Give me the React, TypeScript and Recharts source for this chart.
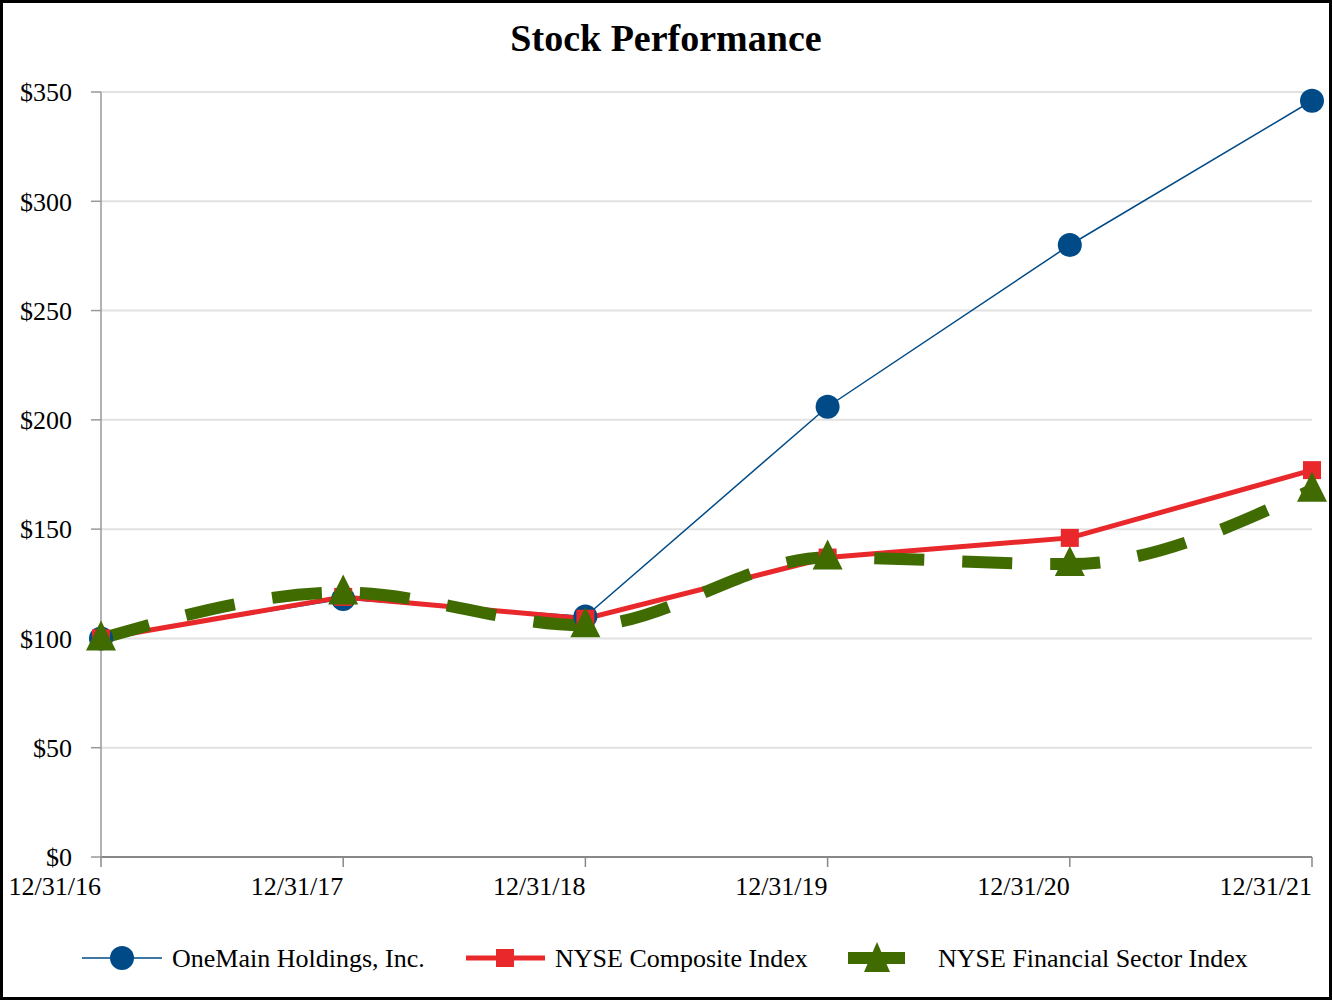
import React from 'react';
import { LineChart, Line, XAxis, YAxis, CartesianGrid, Legend } from 'recharts';

const dates = ['12/31/16', '12/31/17', '12/31/18', '12/31/19', '12/31/20', '12/31/21'];
const oneMain = [100, 118, 110, 206, 280, 346];
const nyseComposite = [100, 119, 109, 137, 146, 177];
const nyseFinancial = [100, 121, 106, 137, 134, 168];
const yTicks = [0, 50, 100, 150, 200, 250, 300, 350];

const BLUE = '#004B87';
const RED = '#E8282B';
const GREEN = '#3F6B00';
const FONT = '"Liberation Serif", "Times New Roman", serif';

const data = dates.map((d, i) => ({
  date: d,
  oneMain: oneMain[i],
  composite: nyseComposite[i],
  financial: nyseFinancial[i],
}));

const XTick = (props: any) => {
  const { x, y, payload } = props;
  return (
    <text x={x} y={y} dy={20} textAnchor="end" fontSize={26} fontFamily={FONT} fill="#000">
      {payload.value}
    </text>
  );
};

const Triangle = (props: any) => {
  const { cx, cy } = props;
  if (cx == null || cy == null) return null;
  return <path d={`M${cx},${cy - 18} L${cx + 15},${cy + 12} L${cx - 15},${cy + 12} Z`} fill={GREEN} />;
};

const Square = (props: any) => {
  const { cx, cy } = props;
  if (cx == null || cy == null) return null;
  return <rect x={cx - 9} y={cy - 9} width={18} height={18} fill={RED} />;
};

const LegendContent = () => (
  <svg width={1332} height={40} style={{ display: 'block' }}>
    <g>
      <line x1={82} y1={20} x2={162} y2={20} stroke={BLUE} strokeWidth={1.5} />
      <circle cx={122} cy={20} r={12} fill={BLUE} />
      <text x={172} y={29} fontSize={26} fontFamily={FONT} fill="#000">OneMain Holdings, Inc.</text>
    </g>
    <g>
      <line x1={466} y1={20} x2={545} y2={20} stroke={RED} strokeWidth={5} />
      <rect x={496} y={11} width={18} height={18} fill={RED} />
      <text x={555} y={29} fontSize={26} fontFamily={FONT} fill="#000">NYSE Composite Index</text>
    </g>
    <g>
      <line x1={848} y1={20} x2={905} y2={20} stroke={GREEN} strokeWidth={12} />
      <path d="M877,4 L890,34 L864,34 Z" fill={GREEN} />
      <text x={938} y={29} fontSize={26} fontFamily={FONT} fill="#000">NYSE Financial Sector Index</text>
    </g>
  </svg>
);

export default function App() {
  return (
    <div
      style={{
        position: 'absolute',
        left: 0,
        top: 0,
        width: 1332,
        height: 1000,
        background: '#fff',
        border: '3px solid #000',
        boxSizing: 'border-box',
        fontFamily: FONT,
      }}
    >
      <div
        style={{
          position: 'absolute',
          left: 0,
          top: 13,
          width: '100%',
          textAlign: 'center',
          fontSize: 38,
          fontWeight: 'bold',
          fontFamily: FONT,
          lineHeight: '44px',
        }}
      >
        Stock Performance
      </div>
      <div style={{ position: 'absolute', left: -3, top: -3 }}>
        <LineChart width={1332} height={1000} data={data} margin={{ top: 92, right: 20, left: 0, bottom: 83 }}>
          <CartesianGrid vertical={false} stroke="#e2e2e2" strokeWidth={2} />
          <XAxis
            dataKey="date"
            height={60}
            tick={<XTick />}
            tickSize={10}
            tickMargin={8}
            stroke="#888"
            axisLine={{ stroke: '#888', strokeWidth: 2 }}
            tickLine={{ stroke: '#888', strokeWidth: 1.5 }}
            interval={0}
          />
          <YAxis
            width={101}
            domain={[0, 350]}
            ticks={yTicks}
            tickFormatter={(v: number) => `$${v}`}
            tickSize={10}
            tickMargin={19}
            tickLine={{ stroke: '#999', strokeWidth: 1.5 }}
            axisLine={{ stroke: '#999', strokeWidth: 1.5 }}
            tick={{ fill: '#000', fontSize: 26, fontFamily: FONT }}
            interval={0}
          />
          <Legend
            layout="horizontal"
            verticalAlign="middle"
            align="center"
            content={<LegendContent />}
            wrapperStyle={{ top: 938, left: 0, width: 1332 }}
          />
          <Line
            type="linear"
            dataKey="oneMain"
            stroke={BLUE}
            strokeWidth={1.5}
            dot={{ r: 12, fill: BLUE, stroke: 'none' }}
            activeDot={false}
            isAnimationActive={false}
          />
          <Line
            type="linear"
            dataKey="composite"
            stroke={RED}
            strokeWidth={5}
            dot={<Square />}
            activeDot={false}
            isAnimationActive={false}
          />
          <Line
            type="monotone"
            dataKey="financial"
            stroke={GREEN}
            strokeWidth={12}
            strokeDasharray="50 38"
            dot={<Triangle />}
            activeDot={false}
            isAnimationActive={false}
          />
        </LineChart>
      </div>
    </div>
  );
}
